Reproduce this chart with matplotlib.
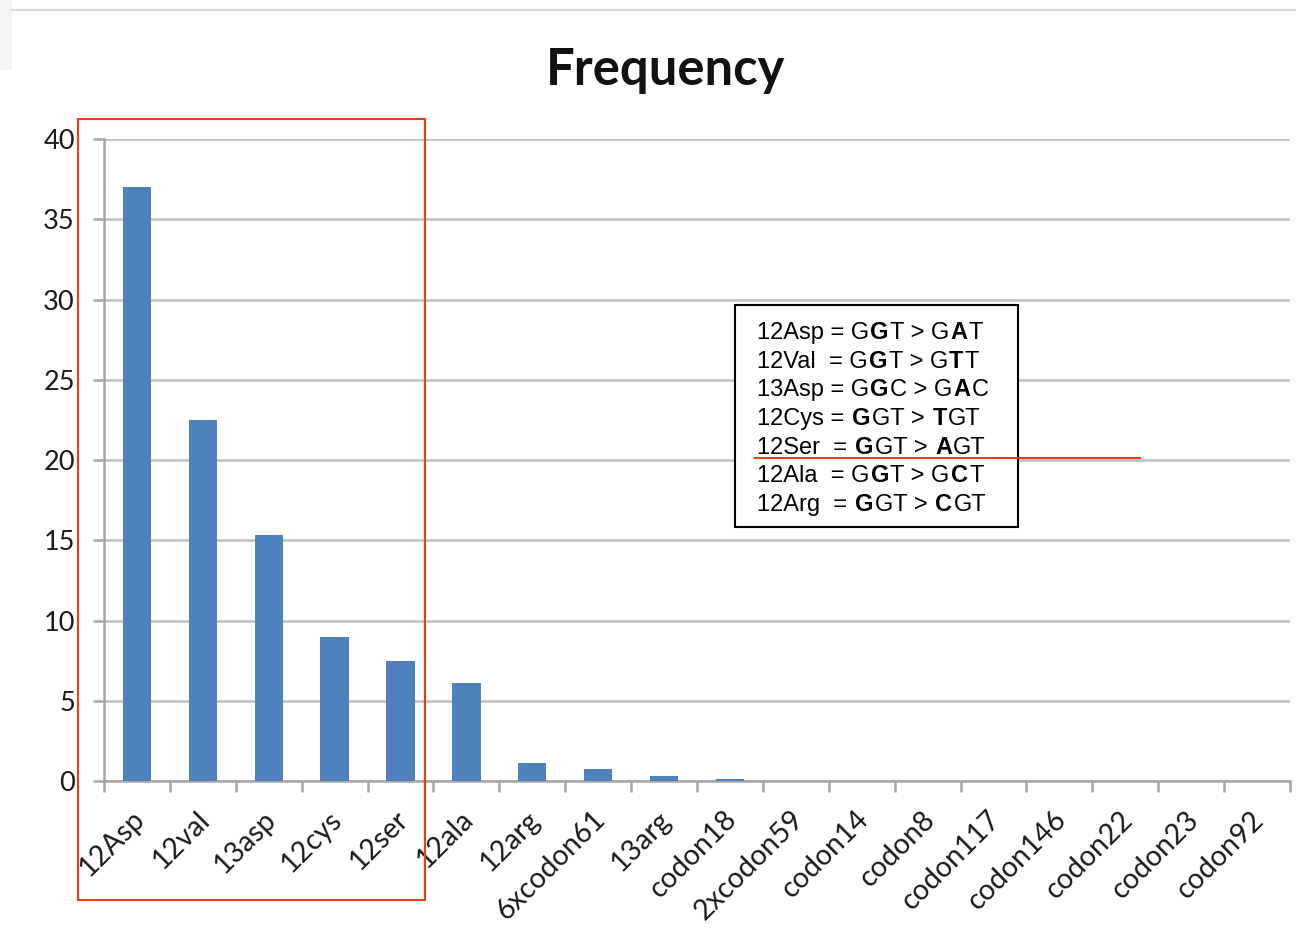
"""Frequency of codon mutations, bar chart with annotation box."""
import numpy as np
import matplotlib
matplotlib.use('Agg')
import matplotlib.pyplot as plt
import matplotlib.transforms as mtransforms
from matplotlib.patches import Rectangle
from matplotlib.lines import Line2D
from matplotlib.offsetbox import TextArea, HPacker, VPacker, AnchoredOffsetbox

categories = ['12Asp', '12val', '13asp', '12cys', '12ser', '12ala', '12arg',
              '6xcodon61', '13arg', 'codon18', '2xcodon59', 'codon14', 'codon8',
              'codon117', 'codon146', 'codon22', 'codon23', 'codon92']
frequency = [37.0, 22.5, 15.3, 9.0, 7.5, 6.1, 1.1, 0.75, 0.3, 0.1,
             0, 0, 0, 0, 0, 0, 0, 0]
y_ticks = [0, 5, 10, 15, 20, 25, 30, 35, 40]

# annotation box text: (piece, bold)
box_rows = [
    [("12Asp = G", False), ("G", True), ("T > G", False), ("A", True), ("T", False)],
    [("12Val  = G", False), ("G", True), ("T > G", False), ("T", True), ("T", False)],
    [("13Asp = G", False), ("G", True), ("C > G", False), ("A", True), ("C", False)],
    [("12Cys = ", False), ("G", True), ("GT > ", False), ("T", True), ("GT", False)],
    [("12Ser  = ", False), ("G", True), ("GT > ", False), ("A", True), ("GT", False)],
    [("12Ala  = G", False), ("G", True), ("T > G", False), ("C", True), ("T", False)],
    [("12Arg  = ", False), ("G", True), ("GT > ", False), ("C", True), ("GT", False)],
]

W, H = 1296, 930
BAR = '#4F81BD'
GRID = '#BFBFBF'
AXIS = '#A6A6A6'
RED = '#F23A16'
LABEL_FONT = 'Lato'
BOX_FONT = 'Liberation Sans'
BOX_FS = 17


def fx(px):
    return px / W


def fy(py):
    return 1 - py / H


fig = plt.figure(figsize=(W / 100, H / 100), dpi=100)
fig.patch.set_facecolor('white')

ax = fig.add_axes([fx(104), fy(781), (1290 - 104) / W, (781 - 139) / H])
x = np.arange(len(categories))
ax.bar(x, frequency, width=0.43, color=BAR, zorder=3)

ax.set_xlim(-0.5, len(categories) - 0.5)
ax.set_ylim(0, 40)
ax.set_yticks(y_ticks)
ax.yaxis.grid(True, color=GRID, linewidth=1.8)
ax.set_axisbelow(True)

for side in ['top', 'right']:
    ax.spines[side].set_visible(False)
for side in ['left', 'bottom']:
    ax.spines[side].set_color(AXIS)
    ax.spines[side].set_linewidth(1.8)

ax.set_xticks(x)
ax.set_xticklabels(categories, rotation=45, ha='right', va='top',
                   rotation_mode='anchor', fontsize=20.5, family=LABEL_FONT,
                   color='#1a1a1a')
ax.set_xticks(np.arange(len(categories) + 1) - 0.5, minor=True)
ax.tick_params(axis='x', which='major', length=0, pad=18)
ax.tick_params(axis='x', which='minor', length=8, width=1.8, color=AXIS)
ax.tick_params(axis='y', length=8, width=1.8, color=AXIS, pad=13,
               labelsize=19.5, labelcolor='#1a1a1a')
for lbl in ax.get_yticklabels():
    lbl.set_family(LABEL_FONT)

# nudge the rotated labels a little to the left
shift = mtransforms.ScaledTranslation(-6 / 100, 0, fig.dpi_scale_trans)
for lbl in ax.get_xticklabels():
    lbl.set_transform(lbl.get_transform() + shift)

fig.text(fx(666), fy(70), 'Frequency', ha='center', va='center',
         fontsize=36.5, fontweight='bold', family=LABEL_FONT, color='#111111')

# light frame bits from the screenshot
fig.add_artist(Line2D([fx(12), 1], [fy(10), fy(10)], color='#D9D9D9',
                      linewidth=1.5, transform=fig.transFigure))
fig.add_artist(Rectangle((0, fy(70)), fx(12), 70 / H, facecolor='#F4F4F4',
                         edgecolor='none', transform=fig.transFigure))

# annotation box
fig.add_artist(Rectangle((fx(735), fy(527)), (1018 - 735) / W, (527 - 305) / H,
                         facecolor='white', edgecolor='black', linewidth=1.5,
                         transform=fig.transFigure, zorder=4))

lines = []
for row in box_rows:
    parts = [TextArea(piece, textprops=dict(
        fontsize=BOX_FS, family=BOX_FONT, color='black',
        fontweight='bold' if bold else 'normal')) for piece, bold in row]
    lines.append(HPacker(children=parts, align='baseline', pad=0, sep=0.9))

block = VPacker(children=lines, align='left', pad=0, sep=4.1)
anchored = AnchoredOffsetbox(loc='upper left', child=block, pad=0, borderpad=0,
                             frameon=False,
                             bbox_to_anchor=(fx(757), fy(321)),
                             bbox_transform=fig.transFigure)
anchored.set_zorder(5)
fig.add_artist(anchored)

# red highlight marks
fig.add_artist(Rectangle((fx(78), fy(900)), (425 - 78) / W, (900 - 119) / H,
                         fill=False, edgecolor=RED, linewidth=1.5,
                         transform=fig.transFigure, zorder=6))
fig.add_artist(Line2D([fx(755), fx(1140)], [fy(458), fy(458)], color=RED,
                      linewidth=1.5, transform=fig.transFigure, zorder=6))

fig.savefig('out.png', dpi=100)
plt.close(fig)
